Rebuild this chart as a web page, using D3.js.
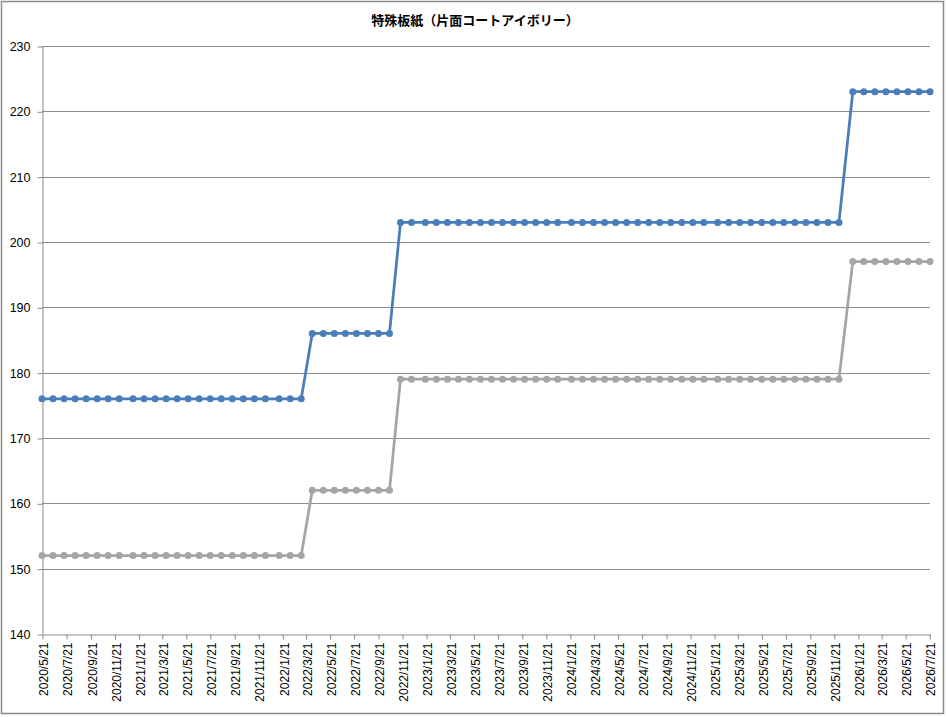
<!DOCTYPE html>
<html>
<head>
<meta charset="utf-8">
<script src="https://cdn.jsdelivr.net/npm/d3@7"></script>
<style>
    body { margin: 0; background: #fff; }
    svg { display: block; }
</style>
</head>
<body>
<svg id="chart" width="946" height="717"></svg>
<script>
let chartTitle = "特殊板紙（片面コートアイボリー）";

// dates of the observations (every ~4 weeks)
let obsDates = [
    "2020-05-21", "2020-06-18", "2020-07-16", "2020-08-13", "2020-09-10", "2020-10-08", "2020-11-05", "2020-12-03",
    "2021-01-07", "2021-02-04", "2021-03-04", "2021-04-01", "2021-04-29", "2021-05-27", "2021-06-24", "2021-07-22",
    "2021-08-19", "2021-09-16", "2021-10-14", "2021-11-11", "2021-12-09",
    "2022-01-13", "2022-02-10", "2022-03-10", "2022-04-07", "2022-05-05", "2022-06-02", "2022-06-30", "2022-07-28",
    "2022-08-25", "2022-09-22", "2022-10-20", "2022-11-17", "2022-12-15",
    "2023-01-19", "2023-02-16", "2023-03-16", "2023-04-13", "2023-05-11", "2023-06-08", "2023-07-06", "2023-08-03",
    "2023-08-31", "2023-09-28", "2023-10-26", "2023-11-23", "2023-12-21",
    "2024-01-25", "2024-02-22", "2024-03-21", "2024-04-18", "2024-05-16", "2024-06-13", "2024-07-11", "2024-08-08",
    "2024-09-05", "2024-10-03", "2024-10-31", "2024-11-28", "2024-12-26",
    "2025-01-30", "2025-02-27", "2025-03-27", "2025-04-24", "2025-05-22", "2025-06-19", "2025-07-17", "2025-08-14",
    "2025-09-11", "2025-10-09", "2025-11-06", "2025-12-04",
    "2026-01-08", "2026-02-05", "2026-03-05", "2026-04-02", "2026-04-30", "2026-05-28", "2026-06-25", "2026-07-23"
];

// blue series
let upperPrices = [
    176, 176, 176, 176, 176, 176, 176, 176,
    176, 176, 176, 176, 176, 176, 176, 176, 176, 176, 176, 176, 176,
    176, 176, 176, 186, 186, 186, 186, 186, 186, 186, 186, 203, 203,
    203, 203, 203, 203, 203, 203, 203, 203, 203, 203, 203, 203, 203,
    203, 203, 203, 203, 203, 203, 203, 203, 203, 203, 203, 203, 203,
    203, 203, 203, 203, 203, 203, 203, 203, 203, 203, 203, 203,
    223, 223, 223, 223, 223, 223, 223, 223
];

// gray series
let lowerPrices = [
    152, 152, 152, 152, 152, 152, 152, 152,
    152, 152, 152, 152, 152, 152, 152, 152, 152, 152, 152, 152, 152,
    152, 152, 152, 162, 162, 162, 162, 162, 162, 162, 162, 179, 179,
    179, 179, 179, 179, 179, 179, 179, 179, 179, 179, 179, 179, 179,
    179, 179, 179, 179, 179, 179, 179, 179, 179, 179, 179, 179, 179,
    179, 179, 179, 179, 179, 179, 179, 179, 179, 179, 179, 179,
    197, 197, 197, 197, 197, 197, 197, 197
];

let yTicks = [140, 150, 160, 170, 180, 190, 200, 210, 220, 230];

let tickDates = [
    "2020/5/21", "2020/7/21", "2020/9/21", "2020/11/21",
    "2021/1/21", "2021/3/21", "2021/5/21", "2021/7/21", "2021/9/21", "2021/11/21",
    "2022/1/21", "2022/3/21", "2022/5/21", "2022/7/21", "2022/9/21", "2022/11/21",
    "2023/1/21", "2023/3/21", "2023/5/21", "2023/7/21", "2023/9/21", "2023/11/21",
    "2024/1/21", "2024/3/21", "2024/5/21", "2024/7/21", "2024/9/21", "2024/11/21",
    "2025/1/21", "2025/3/21", "2025/5/21", "2025/7/21", "2025/9/21", "2025/11/21",
    "2026/1/21", "2026/3/21", "2026/5/21", "2026/7/21"
];

let parseIso = d3.utcParse("%Y-%m-%d");
let parseTick = d3.utcParse("%Y/%m/%d");

let plot = {"left": 42, "right": 930, "top": 46, "bottom": 634};
let gridColor = "#8c8c8c";
let labelFont = "'Liberation Sans', Arial, sans-serif";

let svg = d3.select("#chart");

// chart frame
svg.append("rect")
    .attr("x", 1.5).attr("y", 1.5)
    .attr("width", 942).attr("height", 712)
    .attr("fill", "#fff")
    .attr("stroke", "#8a8a8a")
    .attr("stroke-width", 1.5);

svg.append("text")
    .attr("x", 475).attr("y", 25)
    .attr("text-anchor", "middle")
    .style("font-family", "'Noto Sans CJK JP', sans-serif")
    .style("font-weight", "bold")
    .style("font-size", "13px")
    .text(chartTitle);

// date axis runs from first to last observation
let x = d3.scaleUtc()
    .domain([parseIso(obsDates[0]), parseIso(obsDates[obsDates.length - 1])])
    .range([plot.left, plot.right]);

let y = d3.scaleLinear()
    .domain([140, 230])
    .range([plot.bottom, plot.top]);

// horizontal gridlines
svg.append("g")
    .selectAll("line")
    .data(yTicks.slice(1))
    .join("line")
    .attr("x1", plot.left).attr("x2", plot.right)
    .attr("y1", d => Math.round(y(d)) + 0.5)
    .attr("y2", d => Math.round(y(d)) + 0.5)
    .attr("stroke", gridColor);

// y axis
let yAxis = svg.append("g")
    .attr("transform", `translate(${plot.left + 0.5},0.5)`)
    .call(d3.axisLeft(y).tickValues(yTicks).tickSize(5).tickSizeOuter(0).tickPadding(7));
yAxis.selectAll("line, path").attr("stroke", gridColor);
yAxis.selectAll("text")
    .style("font-family", labelFont)
    .style("font-size", "12.5px")
    .attr("fill", "#000");

// x axis
let xAxis = svg.append("g")
    .attr("transform", `translate(0.5,${plot.bottom + 0.5})`)
    .call(d3.axisBottom(x)
        .tickValues(tickDates.map(parseTick))
        .tickFormat((d, i) => tickDates[i])
        .tickSize(5)
        .tickSizeOuter(0));
xAxis.selectAll("line, path").attr("stroke", gridColor);
xAxis.selectAll("text")
    .style("font-family", labelFont)
    .style("font-size", "12px")
    .attr("fill", "#000")
    .attr("text-anchor", "end")
    .attr("transform", "rotate(-90)")
    .attr("x", -8)
    .attr("y", 1)
    .attr("dy", "0.35em");

let line = d3.line()
    .x(d => x(d[0]))
    .y(d => y(d[1]));

function drawSeries(values, color) {
    let pts = values.map((v, i) => [parseIso(obsDates[i]), v]);
    let g = svg.append("g");
    g.append("path")
        .datum(pts)
        .attr("d", line)
        .attr("fill", "none")
        .attr("stroke", color)
        .attr("stroke-width", 2.75)
        .attr("stroke-linejoin", "round");
    g.selectAll("circle")
        .data(pts)
        .join("circle")
        .attr("cx", d => x(d[0]))
        .attr("cy", d => y(d[1]))
        .attr("r", 3.5)
        .attr("fill", color);
}

drawSeries(lowerPrices, "#a5a5a5");
drawSeries(upperPrices, "#4a7ebb");
</script>
</body>
</html>
